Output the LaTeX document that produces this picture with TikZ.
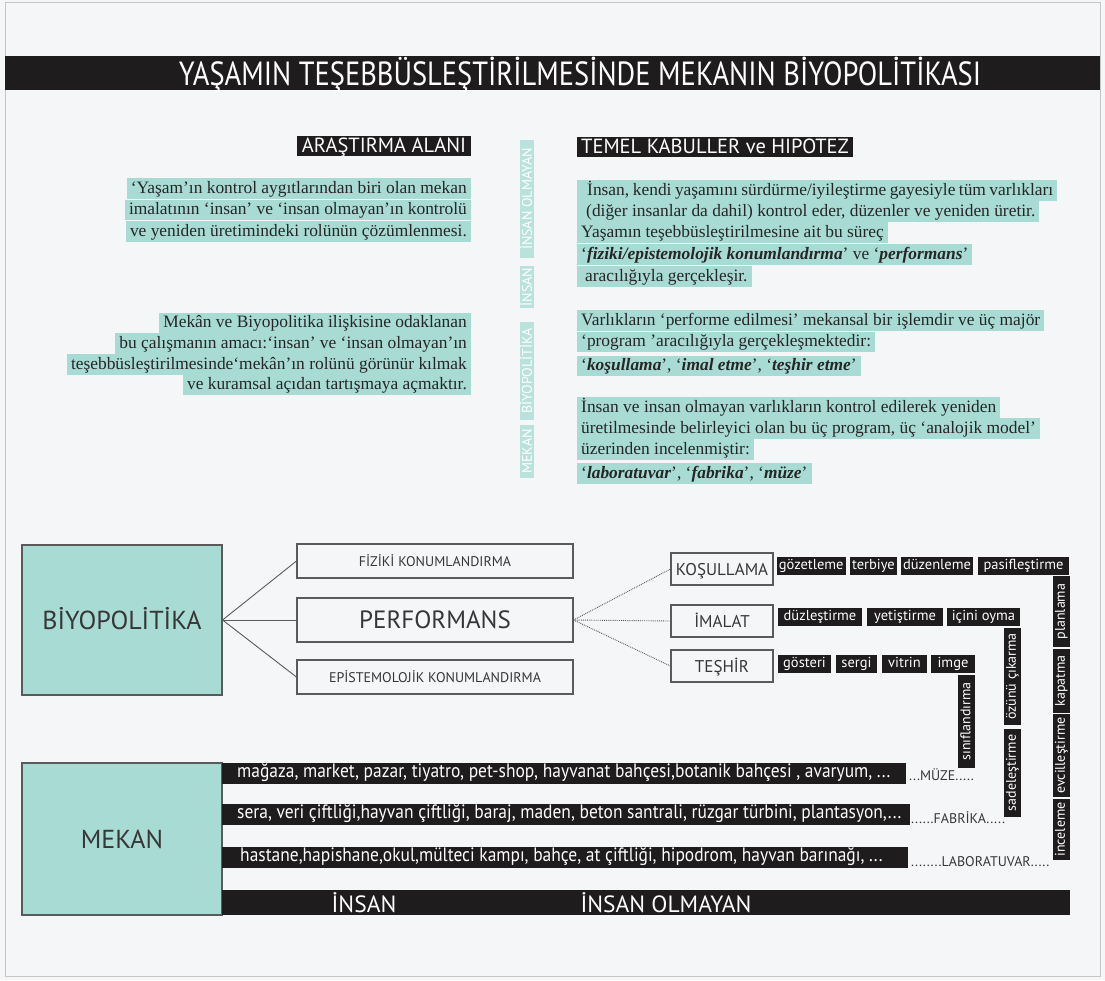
\documentclass[tikz,border=0pt]{standalone}
\usepackage{fontspec}
\setmainfont{Liberation Serif}
\newfontfamily\din{PT Sans}
\newfontfamily\dinc[FakeStretch=0.85]{PT Sans}
\newfontfamily\dinn[FakeStretch=0.9]{PT Sans}
\newcommand\bfit[1]{\textbf{\textit{#1}}}
\definecolor{hl}{RGB}{168,219,212}
\definecolor{bgc}{RGB}{245,246,248}
\definecolor{ink}{RGB}{30,28,29}
\definecolor{edgec}{RGB}{90,90,90}
\definecolor{txtc}{RGB}{55,55,55}
\tikzset{
 hlline/.style={fill=hl, inner xsep=4pt, inner ysep=0pt, text height=15pt, text depth=5.5pt, font=\fontsize{17.4}{20}\selectfont, text=black!85},
 hlL/.style={hlline, anchor=base east},
 hlR/.style={hlline, anchor=base west},
 head/.style={fill=ink, text=white, inner sep=0pt, minimum height=20pt, text height=14pt, text depth=1pt, font=\din\fontsize{20.5}{20.5}\selectfont},
 vlab/.style={fill=hl!80, text=white, rotate=90, inner sep=0pt, minimum height=14pt, text height=10pt, text depth=0.5pt, font=\din\fontsize{14}{14}\selectfont},
 box/.style={draw=edgec, line width=1.1pt, text=txtc, inner sep=0pt},
 bigbox/.style={box, fill=hl},
 tag/.style={fill=ink, text=white, inner sep=0pt, minimum height=18pt, text height=11pt, text depth=3.5pt, font=\din\fontsize{14.5}{14.5}\selectfont},
 vtag/.style={tag, rotate=90, minimum height=17pt, font=\din\fontsize{14}{14}\selectfont},
 row/.style={fill=ink, text=white, anchor=west, inner xsep=15pt, inner ysep=0pt, minimum height=21pt, text height=12.5pt, text depth=4pt, font=\dinn\fontsize{19.4}{19.4}\selectfont},
 conn/.style={draw=edgec, line width=0.9pt},
 dconn/.style={draw=edgec, line width=0.9pt, densely dotted},
 model/.style={text=txtc, anchor=west, inner sep=0pt, font=\din\fontsize{14}{14}\selectfont},
}
\begin{document}
\begin{tikzpicture}[x=1pt,y=-1pt]
\useasboundingbox (0,0) rectangle (1105,980);
\fill[bgc] (0,0) rectangle (1105,980);
\draw[gray!45, line width=1pt] (5,2) rectangle (1100,976);
% title
\node[fill=ink, minimum width=1095pt, minimum height=34pt, inner sep=0pt] (tbar) at (552.5,73) {};
\node[font=\dinc\fontsize{33.5}{33.5}\selectfont, text=white, inner sep=0pt, anchor=base] (title) at (580,85) {YAŞAMIN TEŞEBBÜSLEŞTİRİLMESİNDE MEKANIN BİYOPOLİTİKASI};
% headings
\node[head, minimum width=174pt] (hA) at (384,146) {ARAŞTIRMA ALANI};
\node[head, minimum width=276pt] (hT) at (715,146.5) {TEMEL KABULLER ve HIPOTEZ};
% left paragraphs
\node[hlL] (a1) at (471,193) {‘Yaşam’ın kontrol aygıtlarından biri olan mekan};
\node[hlL] (a2) at (471,214.5) {imalatının ‘insan’ ve ‘insan olmayan’ın kontrolü\ };
\node[hlL] (a3) at (471,236) {ve yeniden üretimindeki rolünün çözümlenmesi.};
\node[hlL] (b1) at (471,327.5) {Mekân ve Biyopolitika ilişkisine odaklanan};
\node[hlL] (b2) at (471,348.3) {bu çalışmanın amacı:‘insan’ ve ‘insan olmayan’ın\ };
\node[hlL] (b3) at (471,369) {teşebbüsleştirilmesinde‘mekân’ın rolünü görünür kılmak};
\node[hlL] (b4) at (471,389.7) {ve kuramsal açıdan tartışmaya açmaktır.};
% vertical labels
\node[vlab, minimum width=53pt] (vmek) at (527,451.5) {MEKAN};
\node[vlab, minimum width=98pt] (vbio) at (527,371) {BİYOPOLİTİKA};
\node[vlab, minimum width=42pt] (vins) at (527,287) {İNSAN};
\node[vlab, minimum width=118pt] (vino) at (527,199) {İNSAN OLMAYAN};
% right paragraphs
\node[hlR] (c1) at (577,195) {\hspace{6pt}\makebox[466pt][s]{İnsan, kendi yaşamını sürdürme/iyileştirme gayesiyle tüm varlıkları}};
\node[hlR] (c2) at (577,216) {\hspace{5pt}(diğer insanlar da dahil) kontrol eder, düzenler ve yeniden üretir.};
\node[hlR] (c3) at (577,237) {Yaşamın teşebbüsleştirilmesine ait bu süreç\hspace{3pt}};
\node[hlR] (c4) at (577,259) {‘\bfit{fiziki/epistemolojik konumlandırma}’ ve ‘\bfit{performans}’\hspace{3pt}};
\node[hlR] (c5) at (577,281) {\hspace{4pt}aracılığıyla gerçekleşir.\hspace{7pt}};
\node[hlR] (d1) at (577,325) {Varlıkların ‘performe edilmesi’ mekansal bir işlemdir ve üç majör};
\node[hlR] (d2) at (577,346.5) {‘program ’aracılığıyla gerçekleşmektedir:\hspace{5pt}};
\node[hlR] (d3) at (577,370.5) {‘\bfit{koşullama}’, ‘\bfit{imal etme}’, ‘\bfit{teşhir etme}’\hspace{12pt}};
\node[hlR] (e1) at (577,412) {İnsan ve insan olmayan varlıkların kontrol edilerek yeniden};
\node[hlR] (e2) at (577,433) {üretilmesinde belirleyici olan bu üç program, üç ‘analojik model’};
\node[hlR] (e3) at (577,454) {üzerinden incelenmiştir:\hspace{3pt}};
\node[hlR] (e4) at (577,478) {‘\bfit{laboratuvar}’, ‘\bfit{fabrika}’, ‘\bfit{müze}’\hspace{8pt}};
% lower diagram
\node[bigbox, minimum width=200pt, minimum height=150pt, text height=18pt, text depth=0pt, font=\din\fontsize{26}{26}\selectfont] (bio) at (122,620) {BİYOPOLİTİKA};
\node[box, minimum width=276pt, minimum height=34pt, text height=10pt, text depth=0pt, font=\din\fontsize{14}{14}\selectfont] (fiz) at (435,561) {FİZİKİ KONUMLANDIRMA};
\node[box, minimum width=276pt, minimum height=44pt, text height=17.5pt, text depth=0pt, font=\din\fontsize{25}{25}\selectfont] (perf) at (435,620) {PERFORMANS};
\node[box, minimum width=276pt, minimum height=34pt, text height=10pt, text depth=0pt, font=\din\fontsize{14}{14}\selectfont] (epi) at (435,677) {EPİSTEMOLOJİK KONUMLANDIRMA};
\node[box, minimum width=102pt, minimum height=32pt, text height=12pt, text depth=0pt, font=\din\fontsize{17}{17}\selectfont] (kos) at (722,569) {KOŞULLAMA};
\node[box, minimum width=102pt, minimum height=32pt, text height=12pt, text depth=0pt, font=\din\fontsize{17}{17}\selectfont] (ima) at (722,621) {İMALAT};
\node[box, minimum width=102pt, minimum height=32pt, text height=12pt, text depth=0pt, font=\din\fontsize{17}{17}\selectfont] (tes) at (722,666) {TEŞHİR};
\draw[conn] (bio.east) -- (fiz.west);
\draw[conn] (bio.east) -- (perf.west);
\draw[conn] (bio.east) -- (epi.west);
\draw[dconn] (perf.east) -- (kos.west);
\draw[dconn] (perf.east) -- (ima.west);
\draw[dconn] (perf.east) -- (tes.west);
% tags row 1
\node[tag, minimum width=69pt] (g1) at (811.2,566) {gözetleme};
\node[tag, minimum width=46.7pt] (g2) at (873.4,566) {terbiye};
\node[tag, minimum width=72.6pt] (g3) at (937,566) {düzenleme};
\node[tag, minimum width=91.6pt] (g4) at (1023.5,566) {pasifleştirme};
% tags row 2
\node[tag, minimum width=84pt] (m1) at (820,617) {düzleştirme};
\node[tag, minimum width=76pt] (m2) at (905,617) {yetiştirme};
\node[tag, minimum width=73pt] (m3) at (983.5,617) {içini oyma};
% tags row 3
\node[tag, minimum width=53pt] (s1) at (804.5,664) {gösteri};
\node[tag, minimum width=41pt] (s2) at (856.5,664) {sergi};
\node[tag, minimum width=45pt] (s3) at (904.5,664) {vitrin};
\node[tag, minimum width=44pt] (s4) at (953,664) {imge};
% vertical tags
\node[vtag, minimum width=93pt] (v1) at (966.5,721.5) {sınıflandırma};
\node[vtag, minimum width=97pt] (v2) at (1012,676.5) {özünü çıkarma};
\node[vtag, minimum width=88pt] (v3) at (1012,773) {sadeleştirme};
\node[vtag, minimum width=71pt] (v4) at (1061,611.5) {planlama};
\node[vtag, minimum width=64pt] (v5) at (1061,681) {kapatma};
\node[vtag, minimum width=83pt] (v6) at (1061,755.5) {evcilleştirme};
\node[vtag, minimum width=61pt] (v7) at (1061,829.5) {inceleme};
% MEKAN
\node[bigbox, minimum width=200pt, minimum height=152pt, text height=18pt, text depth=0pt, font=\din\fontsize{26}{26}\selectfont] (mek) at (122,839) {MEKAN};
\node[row] (r1) at (222,773.5) {\makebox[654pt][l]{mağaza, market, pazar, tiyatro, pet-shop, hayvanat bahçesi,botanik bahçesi , avaryum, ...}};
\node[row] (r2) at (222,814) {\makebox[658pt][l]{sera, veri çiftliği,hayvan çiftliği, baraj, maden, beton santrali, rüzgar türbini, plantasyon,...}};
\node[row] (r3) at (222,857) {\makebox[656pt][l]{\hspace{3pt}hastane,hapishane,okul,mülteci kampı, bahçe, at çiftliği, hipodrom, hayvan barınağı, ...}};
\node[model] (mz) at (909,775) {...MÜZE.....};
\node[model] (fb) at (911,818) {......FABRİKA.....};
\node[model] (lb) at (911,862) {........LABORATUVAR.....};
% bottom bar
\node[fill=ink, minimum width=848pt, minimum height=25pt, inner sep=0pt] (bar) at (646,902.5) {};
\node[text=white, inner sep=0pt, anchor=base, font=\din\fontsize{23.5}{23.5}\selectfont] (bins) at (364,912) {İNSAN};
\node[text=white, inner sep=0pt, anchor=base, font=\din\fontsize{23.5}{23.5}\selectfont] (bino) at (666,912) {İNSAN OLMAYAN};
\end{tikzpicture}
\end{document}
